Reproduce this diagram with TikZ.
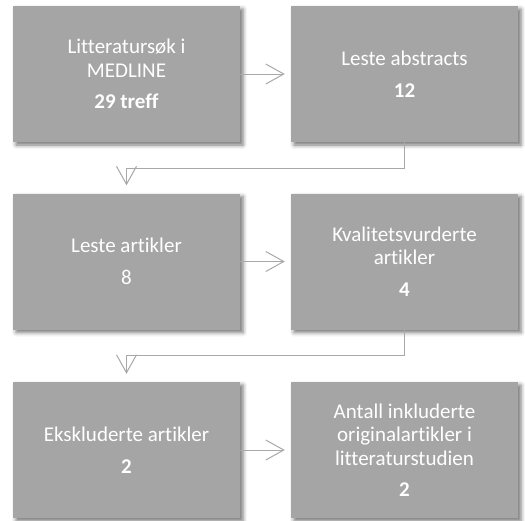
\documentclass[tikz,border=0pt]{standalone}
\usepackage{fontspec}
\setmainfont{Carlito}[Ligatures = NoCommon]
\usetikzlibrary{arrows.meta, shadows.blur}

\definecolor{boxgray}{HTML}{A5A5A5}
\definecolor{linegray}{HTML}{A8A8A8}

\begin{document}
\begin{tikzpicture}[x = 1pt, y = -1pt,
	> = {Straight Barb[length = 18pt, width = 20pt, line width = 1pt]},
	stepbox/.style = {fill = boxgray, text = white, align = center,
		minimum width = 227pt, minimum height = 136pt, inner sep = 0pt,
		font = \fontsize{21}{23.5}\selectfont,
		blur shadow = {shadow xshift = 3pt, shadow yshift = -3pt,
			shadow blur radius = 4pt, shadow opacity = 55}}]

	% Definitions

	\def\L{126.5}	% Centre of left column
	\def\R{404.5}	% Centre of right column
	\def\G{8}		% Gap before a bold count

	\useasboundingbox (0, 0) rectangle (525, 520);

	% Steps

	\node [stepbox] (sok) at (\L, 74) {Litteraturs\o k i\\ MEDLINE\\[\G pt] \textbf{29 treff}};
	\node [stepbox] (abs) at (\R, 74) {Leste abstracts\\[\G pt] \textbf{12}};
	\node [stepbox] (les) at (\L, 261.5) {Leste artikler\\[\G pt] 8};
	\node [stepbox] (kva) at (\R, 261.5) {Kvalitetsvurderte\\ artikler\\[\G pt] \textbf{4}};
	\node [stepbox] (eks) at (\L, 450) {Ekskluderte artikler\\[\G pt] \textbf{2}};
	\node [stepbox] (ant) at (\R, 450) {Antall inkluderte\\ originalartikler i\\ litteraturstudien\\[\G pt] \textbf{2}};

	% Connectors

	\begin{scope}[->, linegray, line width = 1pt]

		\draw [shorten > = 6pt] (sok) -- (abs);
		\draw [shorten > = 8pt] (abs.south) -- ++(0, 26) -| (les.north);
		\draw [shorten > = 6pt] (les) -- (kva);
		\draw [shorten > = 8pt] (kva.south) -- ++(0, 26) -| (eks.north);
		\draw [shorten > = 6pt] (eks) -- (ant);

	\end{scope}

\end{tikzpicture}
\end{document}
